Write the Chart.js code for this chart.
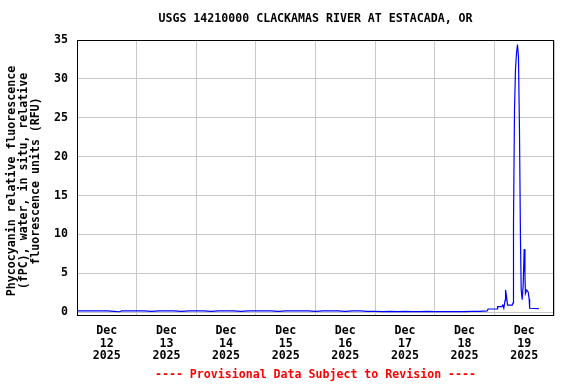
<!DOCTYPE html>
<html>
<head>
<meta charset="utf-8">
<script src="https://cdn.jsdelivr.net/npm/chart.js@4.4.1/dist/chart.umd.min.js"></script>
<style>
  html, body { margin: 0; padding: 0; background: #fff; }
  #wrap { width: 576px; height: 384px; }
</style>
</head>
<body>
<div id="wrap"><canvas id="myChart" width="576" height="384"></canvas></div>
<script>
// hours since Dec 12 2025 00:00
const hours = [
  0, 3, 6, 9, 12, 15, 17, 18, 21, 24, 27, 30, 33, 36, 39, 42, 45, 48, 51, 54, 57, 60,
  63, 66, 69, 72, 75, 78, 81, 84, 87, 90, 93, 96, 99, 102, 105, 108, 111, 114, 117,
  120, 123, 126, 129, 132, 135, 138, 141, 144, 147, 150, 153, 156, 159, 162, 165.1,
  165.5, 169.1, 169.3, 171.0, 171.4, 171.8, 172.3, 172.5, 172.9, 173.3, 175.2, 175.5,
  175.7, 176.1, 176.5, 176.9, 177.3, 177.7, 178.1, 178.5, 178.8, 179.2, 179.6, 180.0,
  180.3, 180.5, 181.0, 181.6, 182.0, 182.2, 185.9
];
const rfu = [
  0.15, 0.15, 0.15, 0.15, 0.15, 0.1, 0.05, 0.15, 0.15, 0.15, 0.15, 0.1, 0.15, 0.15, 0.15, 0.1, 0.15, 0.15, 0.15, 0.1, 0.15, 0.15,
  0.15, 0.1, 0.15, 0.15, 0.15, 0.15, 0.1, 0.15, 0.15, 0.15, 0.15, 0.1, 0.15, 0.15, 0.15, 0.1, 0.15, 0.15, 0.1,
  0.1, 0.05, 0.1, 0.05, 0.1, 0.05, 0.05, 0.1, 0.05, 0.05, 0.05, 0.05, 0.05, 0.1, 0.1, 0.15,
  0.4, 0.4, 0.7, 0.7, 0.9, 0.5, 1.5, 2.85, 2.0, 0.9, 0.9, 1.2,
  11.5, 26, 31.2, 33.3, 34.4, 32.8, 23.5, 9.5, 2.85, 1.6, 3.5, 8.1,
  5.0, 2.4, 2.85, 2.6, 1.7, 0.5, 0.45
];
const dayLabels = ["12", "13", "14", "15", "16", "17", "18", "19"];
const xTicks = [0, 12, 24, 36, 48, 60, 72, 84, 96, 108, 120, 132, 144, 156, 168, 180, 192];
const yTicks = [0, 5, 10, 15, 20, 25, 30, 35];

const titleText = "USGS 14210000 CLACKAMAS RIVER AT ESTACADA, OR";
const yTitle = ["Phycocyanin relative fluorescence", "(fPC), water, in situ, relative", "fluorescence units (RFU)"];
const footer = "---- Provisional Data Subject to Revision ----";

const monoFont = "'DejaVu Sans Mono', monospace";

const textPlugin = {
    id: "usgsText",
    afterDraw(chart) {
        const c = chart.ctx;
        const a = chart.chartArea;
        c.save();
        // plot frame
        c.strokeStyle = "#000";
        c.lineWidth = 1;
        c.strokeRect(a.left + 0.5, a.top + 0.5, a.right - a.left - 1, a.bottom - a.top - 1);
        c.font = "bold 11.6px " + monoFont;
        c.fillStyle = "#000";
        c.textAlign = "center";
        c.textBaseline = "middle";
        c.fillText(titleText, (a.left + a.right) / 2, 19);
        // y title
        c.save();
        c.translate(24, 181);
        c.rotate(-Math.PI / 2);
        yTitle.forEach((t, i) => c.fillText(t, 0, (i - 1) * 12));
        c.restore();
        c.fillStyle = "#ff0000";
        c.fillText(footer, (a.left + a.right) / 2, 375);
        c.restore();
    }
};

const data = {
    datasets: [{
        data: hours.map((h, i) => ({ x: h, y: rfu[i] })),
        borderColor: "#0000ff",
        borderWidth: 1.2,
        pointRadius: 0,
        tension: 0,
        fill: false,
    }]
};

const config = {
    type: "line",
    data,
    options: {
        responsive: false,
        animation: false,
        layout: { padding: { left: 0, right: 22, top: 40, bottom: 0 } },
        plugins: { legend: { display: false }, tooltip: { enabled: false } },
        scales: {
            x: {
                type: "linear",
                min: 0,
                max: 192,
                afterBuildTicks: (s) => { s.ticks = xTicks.map(v => ({ value: v })); },
                afterFit: (s) => { s.height = 68; },
                grid: {
                    drawTicks: false,
                    color: (ctx) => (ctx.tick && ctx.tick.value % 24 === 0) ? "#c8c8c8" : "rgba(0,0,0,0)",
                },
                border: { display: false },
                ticks: {
                    autoSkip: false,
                    maxRotation: 0,
                    padding: 8,
                    color: "#000",
                    font: { family: monoFont, size: 11.6, weight: "bold", lineHeight: 1.12 },
                    callback: (v) => (v % 24 === 12) ? ["Dec", dayLabels[(v - 12) / 24], "2025"] : "",
                },
            },
            y: {
                min: -0.5,
                max: 35,
                afterBuildTicks: (s) => { s.ticks = yTicks.map(v => ({ value: v })); },
                afterFit: (s) => { s.width = 77; },
                grid: { drawTicks: false, color: "#c8c8c8" },
                border: { display: false },
                ticks: {
                    padding: 9,
                    color: "#000",
                    font: { family: monoFont, size: 11.6, weight: "bold" },
                },
            },
        },
    },
    plugins: [textPlugin],
};

const myChart = new Chart(document.getElementById("myChart"), config);
</script>
</body>
</html>
